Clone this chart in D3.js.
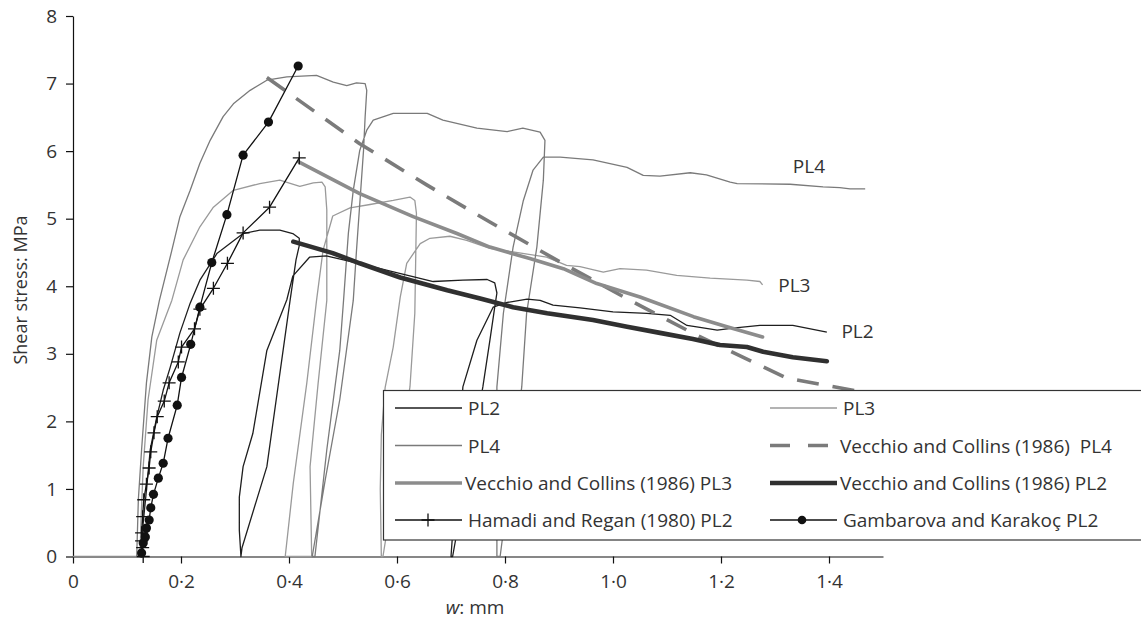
<!DOCTYPE html>
<html lang="en">
<head>
<meta charset="UTF-8">
<title>Shear stress against crack width</title>
<script src="https://d3js.org/d3.v7.min.js"></script>
<style>
  body { margin: 0; background: #fff; }
  svg { display: block; font-family: "Open Sans", sans-serif; }
</style>
</head>
<body>
<svg width="1141" height="621"></svg>
<script>
// data: [w (mm), shear stress (MPa)]
const baseLine = [[0, 0], [0.125, 0]];

const pl2 = [
  [0.125, 0], [0.128, 0.2], [0.130, 0.50], [0.136, 0.98], [0.143, 1.58], [0.155, 2.06], [0.167, 2.46],
  [0.180, 2.80], [0.198, 3.31], [0.217, 3.75], [0.235, 4.09], [0.267, 4.49], [0.315, 4.78], [0.346, 4.83],
  [0.383, 4.83], [0.407, 4.78], [0.419, 4.71], [0.419, 4.60],
  [0.413, 4.39], [0.402, 3.79], [0.359, 1.33], [0.313, 0.13], [0.311, 0],
  [0.308, 0.39], [0.308, 0.88], [0.315, 1.33], [0.333, 1.82], [0.359, 3.05], [0.396, 3.80], [0.407, 4.15],
  [0.438, 4.43], [0.469, 4.45], [0.507, 4.38], [0.569, 4.26], [0.620, 4.16], [0.667, 4.07], [0.722, 4.09],
  [0.767, 4.10], [0.781, 4.05], [0.785, 3.90],
  [0.781, 3.69], [0.772, 3.20], [0.759, 2.51], [0.703, 0],
  [0.700, 0], [0.722, 2.51], [0.748, 3.20], [0.778, 3.69], [0.804, 3.76], [0.841, 3.81], [0.865, 3.79],
  [0.889, 3.72], [0.939, 3.68], [1.000, 3.62], [1.063, 3.60], [1.106, 3.57], [1.137, 3.42], [1.161, 3.39],
  [1.193, 3.35], [1.222, 3.38], [1.272, 3.42], [1.333, 3.42], [1.396, 3.32]
];

const pl3 = [
  [0.124, 0], [0.126, 0.54], [0.130, 1.33], [0.139, 2.32], [0.155, 3.20], [0.174, 3.60], [0.183, 3.79],
  [0.204, 4.39], [0.235, 4.88], [0.260, 5.17], [0.297, 5.42], [0.346, 5.52], [0.383, 5.57], [0.420, 5.48],
  [0.445, 5.53], [0.461, 5.54], [0.467, 5.47], [0.470, 5.13], [0.470, 3.79],
  [0.454, 2.57], [0.439, 1.33], [0.442, 0],
  [0.393, 0], [0.408, 1.09], [0.433, 2.57], [0.451, 3.79], [0.463, 4.53], [0.481, 5.04], [0.513, 5.16],
  [0.550, 5.21], [0.593, 5.27], [0.624, 5.32], [0.633, 5.27], [0.636, 5.08], [0.633, 3.60], [0.624, 2.51],
  [0.574, 0],
  [0.571, 0], [0.569, 1.0], [0.571, 1.8], [0.578, 2.5], [0.593, 3.1], [0.606, 3.84], [0.618, 4.34],
  [0.643, 4.63], [0.661, 4.71], [0.698, 4.74], [0.729, 4.68], [0.772, 4.56], [0.815, 4.51], [0.877, 4.43],
  [0.914, 4.31], [0.939, 4.29], [0.982, 4.21], [1.013, 4.26], [1.062, 4.24], [1.118, 4.16], [1.180, 4.12],
  [1.248, 4.09], [1.272, 4.07], [1.277, 4.02]
];

const pl4 = [
  [0.118, 0], [0.121, 0.84], [0.127, 1.58], [0.136, 2.57], [0.146, 3.25], [0.160, 3.79], [0.183, 4.53],
  [0.198, 5.03], [0.217, 5.42], [0.235, 5.82], [0.254, 6.16], [0.278, 6.51], [0.297, 6.70], [0.328, 6.90],
  [0.359, 7.05], [0.396, 7.10], [0.451, 7.12], [0.482, 7.02], [0.507, 6.97], [0.525, 7.01], [0.541, 7.00],
  [0.544, 6.90], [0.541, 6.51], [0.538, 6.01], [0.525, 4.53], [0.519, 3.79],
  [0.494, 2.32], [0.467, 1.13], [0.443, 0],
  [0.448, 0], [0.470, 1.58], [0.494, 3.05], [0.501, 3.79], [0.510, 4.79], [0.519, 5.42], [0.531, 6.01],
  [0.544, 6.31], [0.556, 6.46], [0.593, 6.56], [0.656, 6.56], [0.685, 6.46], [0.748, 6.34], [0.804, 6.29],
  [0.833, 6.34], [0.865, 6.28], [0.874, 6.16], [0.871, 5.57], [0.859, 4.58], [0.840, 3.60], [0.831, 2.51],
  [0.791, 0],
  [0.785, 0], [0.785, 2.51], [0.797, 3.60], [0.815, 4.58], [0.834, 5.27], [0.852, 5.72], [0.871, 5.91],
  [0.902, 5.91], [0.963, 5.87], [1.026, 5.76], [1.056, 5.64], [1.087, 5.63], [1.143, 5.68], [1.173, 5.65],
  [1.217, 5.54], [1.230, 5.52], [1.328, 5.51], [1.389, 5.47], [1.420, 5.46], [1.439, 5.44], [1.467, 5.44]
];

const vecchioPL4 = [
  [0.359, 7.09], [0.531, 6.11], [0.655, 5.50], [0.772, 4.95], [0.902, 4.36], [1.025, 3.82],
  [1.149, 3.30], [1.322, 2.64], [1.500, 2.38]
];

const vecchioPL3 = [
  [0.418, 5.84], [0.531, 5.37], [0.630, 5.03], [0.711, 4.78], [0.772, 4.58], [0.846, 4.41],
  [0.908, 4.26], [0.970, 4.04], [1.050, 3.84], [1.149, 3.55], [1.211, 3.40], [1.277, 3.25]
];

const vecchioPL2 = [
  [0.408, 4.66], [0.481, 4.49], [0.531, 4.34], [0.606, 4.13], [0.693, 3.94], [0.754, 3.82],
  [0.815, 3.69], [0.878, 3.60], [0.963, 3.50], [1.026, 3.40], [1.087, 3.31], [1.148, 3.22],
  [1.198, 3.13], [1.248, 3.10], [1.278, 3.03], [1.333, 2.95], [1.396, 2.89]
];

const hamadiPL2 = [
  [0.130, 0], [0.129, 0.13], [0.127, 0.23], [0.127, 0.35], [0.129, 0.59], [0.131, 0.84], [0.136, 1.07],
  [0.141, 1.31], [0.144, 1.55], [0.150, 1.83], [0.156, 2.07], [0.169, 2.30], [0.178, 2.57], [0.195, 2.88],
  [0.201, 3.10], [0.225, 3.37], [0.235, 3.66], [0.260, 3.97], [0.286, 4.34], [0.315, 4.79], [0.364, 5.17],
  [0.419, 5.90]
];

const gambarovaPL2 = [
  [0.127, 0.05], [0.130, 0.20], [0.134, 0.29], [0.136, 0.42], [0.141, 0.54], [0.144, 0.72], [0.149, 0.92],
  [0.158, 1.16], [0.167, 1.38], [0.176, 1.75], [0.193, 2.24], [0.201, 2.65], [0.218, 3.14], [0.235, 3.69],
  [0.257, 4.35], [0.285, 5.06], [0.315, 5.94], [0.362, 6.43], [0.417, 7.26]
];

const xTicks = [0, 0.2, 0.4, 0.6, 0.8, 1.0, 1.2, 1.4];
const yTicks = [0, 1, 2, 3, 4, 5, 6, 7, 8];

const endLabels = [
  { text: "PL4", at: [1.333, 5.68] },
  { text: "PL3", at: [1.306, 3.92] },
  { text: "PL2", at: [1.423, 3.24] }
];

// legend order: left column then right column, row by row
const legendNames = [
  "PL2", "PL3",
  "PL4", "Vecchio and Collins (1986)  PL4",
  "Vecchio and Collins (1986) PL3", "Vecchio and Collins (1986) PL2",
  "Hamadi and Regan (1980) PL2", "Gambarova and Karakoç PL2"
];

// styles kept apart from the values
const styles = {
  "PL2": { color: "#1e1e1e", width: 1.3 },
  "PL3": { color: "#9a9a9a", width: 1.3 },
  "PL4": { color: "#7a7a7a", width: 1.3 },
  "Vecchio and Collins (1986)  PL4": { color: "#7b7b7b", width: 3.6, dash: "22,14" },
  "Vecchio and Collins (1986) PL3": { color: "#8c8c8c", width: 3.6 },
  "Vecchio and Collins (1986) PL2": { color: "#303030", width: 4.6 },
  "Hamadi and Regan (1980) PL2": { color: "#111", width: 1.3, marker: "cross" },
  "Gambarova and Karakoç PL2": { color: "#111", width: 1.3, marker: "dot" }
};

const seriesData = {
  "PL2": pl2,
  "PL3": pl3,
  "PL4": pl4,
  "Vecchio and Collins (1986)  PL4": vecchioPL4,
  "Vecchio and Collins (1986) PL3": vecchioPL3,
  "Vecchio and Collins (1986) PL2": vecchioPL2,
  "Hamadi and Regan (1980) PL2": hamadiPL2,
  "Gambarova and Karakoç PL2": gambarovaPL2
};

const drawOrder = [
  "PL3", "PL4", "PL2",
  "Vecchio and Collins (1986)  PL4", "Vecchio and Collins (1986) PL3", "Vecchio and Collins (1986) PL2",
  "Hamadi and Regan (1980) PL2", "Gambarova and Karakoç PL2"
];

const textColor = "#333";
const fontSize = "19px";

const svg = d3.select("svg");
const x = d3.scaleLinear().domain([0, 1.5]).range([73, 883]);
const y = d3.scaleLinear().domain([0, 8]).range([556.5, 16]);

const line = d3.line().x(d => x(d[0])).y(d => y(d[1]));
const crossPath = "M-6.5,0H6.5M0,-6.5V6.5";

function addMarkers(g, data, kind, color) {
  if (kind === "cross") {
    g.selectAll("path.mk").data(data).enter().append("path")
      .attr("class", "mk")
      .attr("d", crossPath)
      .attr("transform", d => "translate(" + x(d[0]) + "," + y(d[1]) + ")")
      .attr("stroke", color).attr("stroke-width", 1.3).attr("fill", "none");
  } else if (kind === "dot") {
    g.selectAll("circle.mk").data(data).enter().append("circle")
      .attr("class", "mk")
      .attr("cx", d => x(d[0])).attr("cy", d => y(d[1])).attr("r", 4.6)
      .attr("fill", color);
  }
}

// axes
const xAxis = svg.append("g")
  .attr("transform", "translate(0," + y(0) + ")")
  .call(d3.axisBottom(x).tickValues(xTicks).tickSize(7).tickSizeOuter(0).tickPadding(11)
    .tickFormat(d => d === 0 ? "0" : d.toFixed(1).replace(".", "\u00b7")));
const yAxis = svg.append("g")
  .attr("transform", "translate(" + x(0) + ",0)")
  .call(d3.axisLeft(y).tickValues(yTicks).tickSize(7).tickSizeOuter(0).tickPadding(9)
    .tickFormat(d3.format("d")));
[xAxis, yAxis].forEach(a => {
  a.select(".domain").attr("stroke", "#111").attr("stroke-width", 1.2);
  a.selectAll(".tick line").attr("stroke", "#111").attr("stroke-width", 1.2);
  a.selectAll(".tick text").attr("fill", textColor).style("font-size", fontSize)
    .style("font-family", "'Open Sans', sans-serif");
});

svg.append("text")
  .attr("transform", "translate(27,290) rotate(-90)")
  .attr("text-anchor", "middle")
  .attr("fill", textColor).style("font-size", "18px")
  .text("Shear stress: MPa");

const xLabel = svg.append("text")
  .attr("x", 475).attr("y", 614)
  .attr("text-anchor", "middle")
  .attr("fill", textColor).style("font-size", fontSize);
xLabel.append("tspan").style("font-style", "italic").text("w");
xLabel.append("tspan").text(": mm");

// curves
const plot = svg.append("g");
plot.append("path").attr("d", line(baseLine))
  .attr("fill", "none").attr("stroke", "#8a8a8a").attr("stroke-width", 1.5);

drawOrder.forEach(name => {
  const s = styles[name];
  const g = plot.append("g");
  g.append("path")
    .attr("d", line(seriesData[name]))
    .attr("fill", "none")
    .attr("stroke", s.color)
    .attr("stroke-width", s.width)
    .attr("stroke-linejoin", "round")
    .attr("stroke-linecap", s.width > 3 && !s.dash ? "round" : "butt")
    .attr("stroke-dasharray", s.dash || null);
  if (s.marker) addMarkers(g, seriesData[name], s.marker, s.color);
});

svg.selectAll("text.endlabel")
  .data(endLabels)
  .enter().append("text")
  .attr("class", "endlabel")
  .attr("x", d => x(d.at[0])).attr("y", d => y(d.at[1]))
  .attr("fill", textColor).style("font-size", fontSize)
  .text(d => d.text);

// legend
const legend = svg.append("g");
legend.append("rect")
  .attr("x", 383.5).attr("y", 390.5).attr("width", 820).attr("height", 149.5)
  .attr("fill", "#fff").attr("stroke", "#333").attr("stroke-width", 1.2);

const colX = [395, 770];
const rowY = [408, 445.5, 483, 520];
const lineLen = 67;

legendNames.forEach((name, i) => {
  const s = styles[name];
  const lx = colX[i % 2], ly = rowY[Math.floor(i / 2)];
  const g = legend.append("g");
  g.append("line")
    .attr("x1", lx).attr("x2", lx + lineLen)
    .attr("y1", ly).attr("y2", ly)
    .attr("stroke", s.color)
    .attr("stroke-width", s.width)
    .attr("stroke-dasharray", s.dash ? "20,18" : null);
  if (s.marker === "cross") {
    g.append("path").attr("d", crossPath)
      .attr("transform", "translate(" + (lx + 33) + "," + ly + ")")
      .attr("stroke", s.color).attr("stroke-width", 1.3);
  } else if (s.marker === "dot") {
    g.append("circle").attr("cx", lx + 32).attr("cy", ly).attr("r", 4.3).attr("fill", s.color);
  }
  g.append("text")
    .attr("x", lx + lineLen + (s.width > 3 ? 3 : 6))
    .attr("y", ly + 7)
    .attr("fill", textColor).style("font-size", fontSize)
    .style("white-space", "pre")
    .text(name);
});
</script>
</body>
</html>
